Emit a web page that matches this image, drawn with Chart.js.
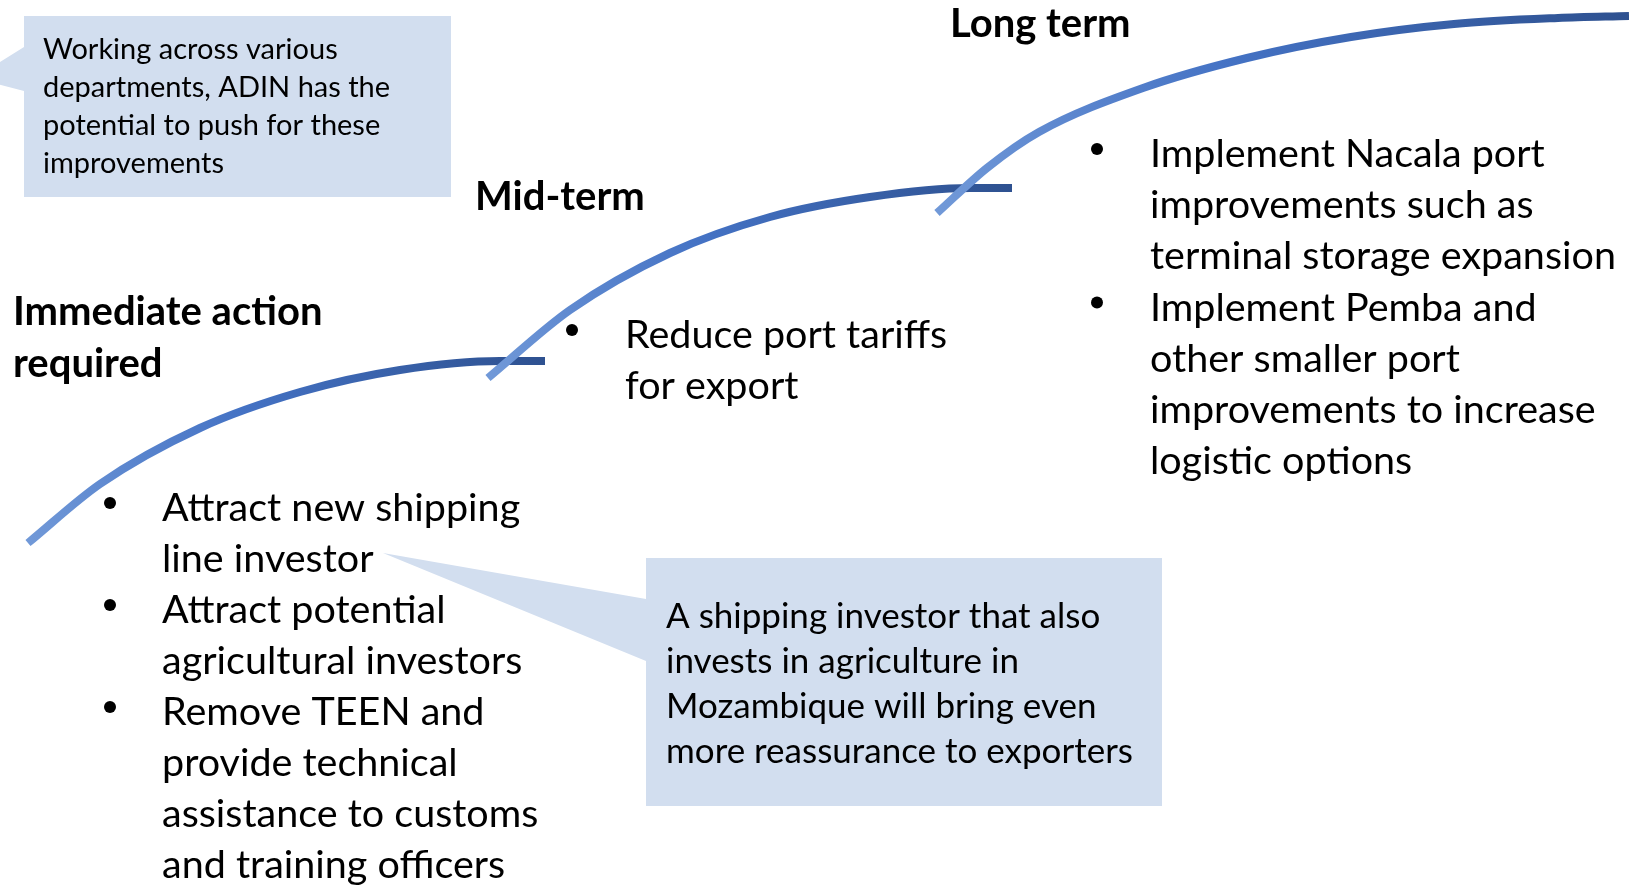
<!DOCTYPE html>
<html>
<head>
<meta charset="utf-8">
<script src="https://cdn.jsdelivr.net/npm/chart.js@4.4.0/dist/chart.umd.min.js"></script>
<style>
html,body{margin:0;padding:0;background:#fff;overflow:hidden}
canvas{display:block}
</style>
</head>
<body>
<canvas id="myChart" width="1629" height="885"></canvas>
<script>
// stage arcs (page units, y grows downwards)
const stages = ['Immediate action required', 'Mid-term', 'Long term'];
const arc1X = [28, 100, 200, 300, 400, 500, 545];
const arc1Y = [543, 484, 428, 392, 370, 361, 361];
const arc2X = [488, 570, 670, 770, 870, 970, 1012];
const arc2Y = [378, 310, 253, 217, 197, 188, 188];
const arc3X = [937, 987, 1039, 1143, 1247, 1351, 1454, 1558, 1629];
const arc3Y = [213, 168, 132, 88, 58, 37, 24, 18, 16];

// texts
const headImmediate = ['Immediate action', 'required'];
const headMid = ['Mid-term'];
const headLong = ['Long term'];
const bulletsImmediate = [
    ['Attract new shipping', 'line investor'],
    ['Attract potential', 'agricultural investors'],
    ['Remove TEEN and', 'provide technical', 'assistance to customs', 'and training officers']
];
const bulletsMid = [['Reduce port tariffs', 'for export']];
const bulletsLong = [
    ['Implement Nacala port', 'improvements such as', 'terminal storage expansion'],
    ['Implement Pemba and', 'other smaller port', 'improvements to increase', 'logistic options']
];
const noteTop = ['Working across various', 'departments, ADIN has the', 'potential to push for these', 'improvements'];
const noteBottom = ['A shipping investor that also', 'invests in agriculture in', 'Mozambique will bring even', 'more reassurance to exporters'];

// layout (positions in the same units as the scales)
const layout = {
    heads: [
        {lines: headImmediate, x: 13, y: 325, step: 52},
        {lines: headMid, x: 475, y: 210, step: 52},
        {lines: headLong, x: 950, y: 37, step: 52}
    ],
    bullets: [
        {items: bulletsImmediate, dot: 110, x: 162, y: 521, step: 51},
        {items: bulletsMid, dot: 572, x: 625, y: 348, step: 51},
        {items: bulletsLong, dot: 1097, x: 1150, y: 167, step: 51.2}
    ],
    notes: [
        {lines: noteTop, x: 43, y: 59, step: 38, font: '29px Lato',
         shape: [[24,16],[451,16],[451,197],[24,197],[24,91],[-26,78],[24,47]]},
        {lines: noteBottom, x: 666, y: 628, step: 45, font: '35px Lato',
         shape: [[646,558],[1162,558],[1162,806],[646,806],[646,661],[383,553],[646,599]]}
    ]
};

function toPoints(xs, ys){
    return xs.map((x, i) => ({x: x, y: ys[i]}));
}

function arcGradient(xs, ys){
    return function(ctx){
        const chart = ctx.chart;
        if (!chart.chartArea) return '#4472C4';
        const sx = chart.scales.x, sy = chart.scales.y;
        const g = chart.ctx.createLinearGradient(
            sx.getPixelForValue(xs[0]), sy.getPixelForValue(ys[0]),
            sx.getPixelForValue(xs[xs.length-1]), sy.getPixelForValue(ys[ys.length-1]));
        g.addColorStop(0, '#7199D8');
        g.addColorStop(0.45, '#4472C4');
        g.addColorStop(1, '#2E5190');
        return g;
    };
}

const roadmapText = {
    id: 'roadmapText',
    beforeDatasetsDraw(chart){
        const c = chart.ctx, sx = chart.scales.x, sy = chart.scales.y;
        c.save();
        c.fillStyle = '#D2DEEF';
        layout.notes.forEach(n => {
            c.beginPath();
            n.shape.forEach((p, i) => {
                const px = sx.getPixelForValue(p[0]), py = sy.getPixelForValue(p[1]);
                if (i === 0) c.moveTo(px, py); else c.lineTo(px, py);
            });
            c.closePath();
            c.fill();
        });
        c.restore();
    },
    afterDatasetsDraw(chart){
        const c = chart.ctx, sx = chart.scales.x, sy = chart.scales.y;
        c.save();
        c.fillStyle = '#000';
        c.textBaseline = 'alphabetic';
        c.textAlign = 'left';

        c.font = 'bold 40px Lato';
        layout.heads.forEach(h => {
            h.lines.forEach((t, i) => {
                c.fillText(t, sx.getPixelForValue(h.x), sy.getPixelForValue(h.y + i*h.step));
            });
        });

        c.font = '39.5px Lato';
        layout.bullets.forEach(b => {
            let row = 0;
            b.items.forEach(item => {
                const by = b.y + row*b.step;
                c.beginPath();
                c.arc(sx.getPixelForValue(b.dot), sy.getPixelForValue(by - 18), 6, 0, Math.PI*2);
                c.fill();
                item.forEach(t => {
                    c.fillText(t, sx.getPixelForValue(b.x), sy.getPixelForValue(b.y + row*b.step));
                    row++;
                });
            });
        });

        layout.notes.forEach(n => {
            c.font = n.font;
            n.lines.forEach((t, i) => {
                c.fillText(t, sx.getPixelForValue(n.x), sy.getPixelForValue(n.y + i*n.step));
            });
        });
        c.restore();
    }
};

function arcDataset(label, xs, ys, order){
    return {
        label: label,
        data: toPoints(xs, ys),
        showLine: true,
        borderColor: arcGradient(xs, ys),
        borderWidth: 8,
        borderCapStyle: 'butt',
        cubicInterpolationMode: 'monotone',
        pointRadius: 0,
        fill: false,
        clip: false,
        order: order
    };
}

var ctx = document.getElementById('myChart').getContext('2d');
var myChart = new Chart(ctx, {
    type: 'scatter',
    data: {
        datasets: [
            arcDataset(stages[0], arc1X, arc1Y, 3),
            arcDataset(stages[1], arc2X, arc2Y, 2),
            arcDataset(stages[2], arc3X, arc3Y, 1)
        ]
    },
    options: {
        responsive: false,
        animation: false,
        devicePixelRatio: 1,
        layout: {padding: 0},
        plugins: {legend: {display: false}, tooltip: {enabled: false}},
        scales: {
            x: {type: 'linear', min: 0, max: 1629, display: false},
            y: {type: 'linear', min: 0, max: 885, reverse: true, display: false}
        }
    },
    plugins: [roadmapText]
});
</script>
</body>
</html>
